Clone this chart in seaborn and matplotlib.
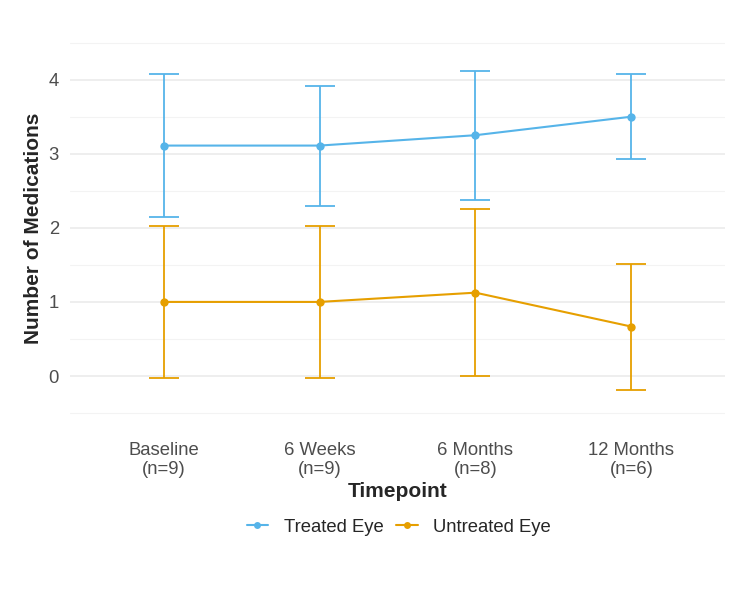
import pandas as pd
import matplotlib
matplotlib.use("Agg")
import matplotlib.pyplot as plt
import seaborn as sns
from matplotlib.lines import Line2D

# %%
# Data
timepoints = ["Baseline\n(n=9)", "6 Weeks\n(n=9)", "6 Months\n(n=8)", "12 Months\n(n=6)"]
groups = ["Treated Eye", "Untreated Eye"]
treated_mean = [3.11, 3.11, 3.25, 3.50]
treated_sd = [0.97, 0.81, 0.87, 0.57]
untreated_mean = [1.00, 1.00, 1.125, 0.667]
untreated_sd = [1.02, 1.02, 1.13, 0.85]

colors = {"Treated Eye": "#56B4E9", "Untreated Eye": "#E69F00"}

df = pd.DataFrame({
    "Timepoint": list(range(len(timepoints))) * 2,
    "Group": [groups[0]] * 4 + [groups[1]] * 4,
    "Mean": treated_mean + untreated_mean,
    "SD": treated_sd + untreated_sd,
})

# %%
sns.set_theme(style="white")
plt.rcParams["font.family"] = ["Liberation Sans", "DejaVu Sans"]

fig = plt.figure(figsize=(7.5, 5.89), dpi=100)
ax = fig.add_axes([0.0933, 0.2924, 0.8734, 0.6416])

sns.lineplot(data=df, x="Timepoint", y="Mean", hue="Group", palette=colors,
             marker="o", markersize=6, markeredgewidth=0, linewidth=1.5,
             legend=False, ax=ax, zorder=3)
for g in groups:
    sub = df[df["Group"] == g]
    ax.errorbar(sub["Timepoint"], sub["Mean"], yerr=sub["SD"], fmt="none",
                ecolor=colors[g], elinewidth=1.3, capsize=11, capthick=1.3, zorder=2)

ax.set_xlim(-0.6, 3.6)
ax.set_ylim(-0.55, 4.55)
ax.set_yticks([0, 1, 2, 3, 4])
ax.set_yticks([-0.5, 0.5, 1.5, 2.5, 3.5, 4.5], minor=True)
ax.set_xticks(range(len(timepoints)))
ax.set_xticklabels(timepoints, linespacing=1.15)
ax.grid(axis="y", which="major", color="#EBEBEB", linewidth=1.2)
ax.grid(axis="y", which="minor", color="#F3F3F3", linewidth=0.8)
ax.grid(axis="x", visible=False)
ax.set_axisbelow(True)
for s in ax.spines.values():
    s.set_visible(False)
ax.tick_params(axis="both", which="both", length=0, labelsize=13.3, labelcolor="#4D4D4D")
ax.tick_params(axis="x", pad=18)
ax.tick_params(axis="y", pad=8)

ax.set_xlabel("Timepoint", fontsize=15, fontweight="bold", labelpad=3)
ax.set_ylabel("Number of Medications", fontsize=15, fontweight="bold", labelpad=4)

handles = [Line2D([0], [0], color=colors[g], marker="o", markersize=5, markeredgewidth=0,
                  linewidth=1.5, label=g) for g in groups]
fig.legend(handles=handles, loc="center", bbox_to_anchor=(0.532, 0.105), ncol=2,
           frameon=False, fontsize=13.3, handlelength=1.15, columnspacing=0.7,
           handletextpad=0.85)

fig.savefig("out.png", dpi=100)
